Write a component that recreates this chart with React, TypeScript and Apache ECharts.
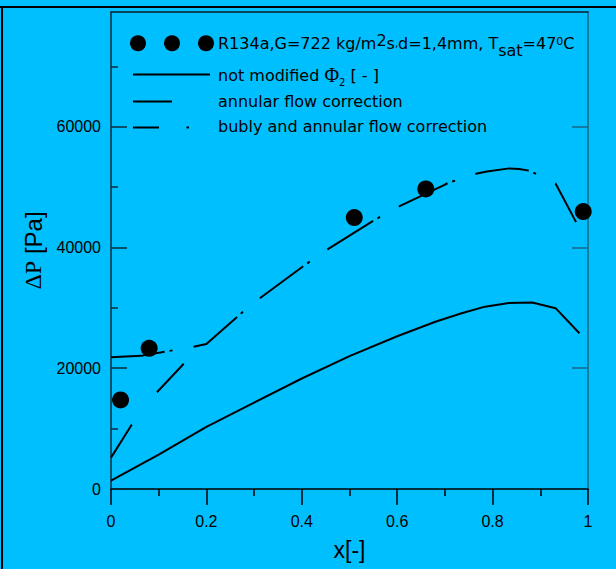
import React, { useEffect, useRef } from 'react';
import * as echarts from 'echarts';

// ---- axis ticks ----
const xTickValues = [0, 0.2, 0.4, 0.6, 0.8, 1];
const xMinorTickValues = [0.1, 0.3, 0.5, 0.7, 0.9];
const yTickValues = [0, 20000, 40000, 60000];
const yMinorTickValues = [10000, 30000, 50000, 70000];
const rightTickValues = [20000, 40000, 60000];

// ---- experimental points ----
const expQuality = [0.02, 0.08, 0.51, 0.66, 0.99];
const expDeltaP = [14750, 23300, 44950, 49700, 45950];

// ---- not modified Phi2 ----
const baseQuality = [0, 0.1, 0.2, 0.3, 0.4, 0.5, 0.6, 0.68, 0.735, 0.784, 0.834, 0.883, 0.932, 0.982];
const baseDeltaP = [1400, 5700, 10300, 14300, 18300, 22000, 25300, 27700, 29100, 30200, 30800, 30900, 29950, 25800];

// ---- annular flow correction ----
const annularQuality = [0, 0.043, 0.096, 0.152, 0.2];
const annularDeltaP = [5200, 10600, 16000, 20700, 24000];

// ---- bubly and annular flow correction ----
const bubblyQuality = [0, 0.063, 0.113, 0.17, 0.2, 0.276, 0.312, 0.41, 0.454, 0.552, 0.604, 0.697, 0.707, 0.765, 0.788, 0.835, 0.856, 0.878, 0.932, 0.975];
const bubblyDeltaP = [21800, 22050, 22750, 23500, 24000, 29300, 31600, 37300, 39700, 44550, 46800, 50300, 50700, 52200, 52600, 53100, 53000, 52700, 50600, 44200];

const SANS = 'Liberation Sans, Arial, sans-serif';
const LEG = 'DejaVu Sans, sans-serif';
const SERIF = 'Liberation Serif, Times New Roman, serif';

const zip = (xs: number[], ys: number[]) => xs.map((x, i) => [x, ys[i]]);

export default function App() {
  const ref = useRef<HTMLDivElement>(null);
  useEffect(() => {
    if (!ref.current) return;
    const chart = echarts.init(ref.current, undefined, { renderer: 'svg' });
    const tickStyle = { color: '#000', width: 1.5 };
    const yLineColor = '#0e2a3a';
    const option: any = {
      animation: false,
      backgroundColor: '#00BFFF',
      grid: { left: 111, top: 12, right: 28, bottom: 80, containLabel: false },
      xAxis: [
        {
          type: 'value', position: 'bottom', min: 0, max: 1, interval: 0.2,
          axisLine: { show: true, onZero: false, lineStyle: { color: '#000', width: 1.5 } },
          axisTick: { show: true, inside: false, length: 16, lineStyle: tickStyle },
          axisLabel: { show: true, margin: 24, fontSize: 16, color: '#000', fontFamily: SANS },
          splitLine: { show: false },
          name: 'x[-]', nameLocation: 'middle', nameGap: 49,
          nameTextStyle: { fontSize: 23, color: '#000', fontFamily: SANS },
        },
        {
          type: 'value', position: 'bottom', min: 0, max: 1,
          axisLine: { show: false },
          axisTick: { show: true, inside: false, length: 7, customValues: xMinorTickValues, lineStyle: tickStyle },
          axisLabel: { show: false }, splitLine: { show: false },
        },
        {
          type: 'value', position: 'top', min: 0, max: 1,
          axisLine: { show: true, onZero: false, lineStyle: { color: '#0b1f2c', width: 1.5 } },
          axisTick: { show: false }, axisLabel: { show: false }, splitLine: { show: false },
        },
      ],
      yAxis: [
        {
          type: 'value', position: 'left', min: 0, max: 79000,
          axisLine: { show: true, onZero: false, lineStyle: { color: yLineColor, width: 1.5 } },
          axisTick: { show: true, inside: true, length: 16, customValues: yTickValues, lineStyle: { color: yLineColor, width: 1.5 } },
          axisLabel: { show: true, customValues: yTickValues, formatter: (v: number) => String(v), margin: 10, fontSize: 16, color: '#000', fontFamily: SANS },
          splitLine: { show: false },
          name: '{s|ΔP} [Pa]', nameLocation: 'middle', nameGap: 66, nameRotate: 90,
          nameTextStyle: {
            fontSize: 24, color: '#000', fontFamily: SANS,
            rich: { s: { fontSize: 24, fontFamily: SERIF, color: '#000' } },
          },
        },
        {
          type: 'value', position: 'left', min: 0, max: 79000,
          axisLine: { show: false },
          axisTick: { show: true, inside: true, length: 7, customValues: yMinorTickValues, lineStyle: { color: yLineColor, width: 1.5 } },
          axisLabel: { show: false }, splitLine: { show: false },
        },
        {
          type: 'value', position: 'right', min: 0, max: 79000,
          axisLine: { show: true, onZero: false, lineStyle: { color: '#1b6585', width: 1.5 } },
          axisTick: { show: true, inside: true, length: 16, customValues: rightTickValues, lineStyle: { color: '#1b6585', width: 1.5 } },
          axisLabel: { show: false }, splitLine: { show: false },
        },
      ],
      series: [
        {
          name: 'not modified Φ2 [ - ]', type: 'line', xAxisIndex: 0, yAxisIndex: 0,
          data: zip(baseQuality, baseDeltaP), showSymbol: false, symbol: 'none',
          lineStyle: { color: '#000', width: 2 },
        },
        {
          name: 'annular flow correction', type: 'line', xAxisIndex: 0, yAxisIndex: 0,
          data: zip(annularQuality, annularDeltaP), showSymbol: false, symbol: 'none',
          lineStyle: { color: '#000', width: 2, type: [39, 41] },
        },
        {
          name: 'bubly and annular flow correction', type: 'line', xAxisIndex: 0, yAxisIndex: 0,
          data: zip(bubblyQuality, bubblyDeltaP), showSymbol: false, symbol: 'none',
          lineStyle: { color: '#000', width: 2, type: [54, 5, 3, 21.4] },
        },
        {
          name: 'R134a,G=722 kg/m2s,d=1,4mm, Tsat=47oC', type: 'scatter', xAxisIndex: 0, yAxisIndex: 0,
          data: zip(expQuality, expDeltaP), symbol: 'circle', symbolSize: 17,
          itemStyle: { color: '#000', opacity: 1 }, z: 5,
        },
      ],
      graphic: [
        { type: 'line', shape: { x1: 0, y1: 7, x2: 616, y2: 7 }, style: { stroke: '#000', lineWidth: 2 } },
        { type: 'line', shape: { x1: 2, y1: 6, x2: 2, y2: 569 }, style: { stroke: '#000', lineWidth: 2 } },
        { type: 'circle', shape: { cx: 138, cy: 43.3, r: 8 }, style: { fill: '#000' } },
        { type: 'circle', shape: { cx: 172, cy: 43.3, r: 8 }, style: { fill: '#000' } },
        { type: 'circle', shape: { cx: 206, cy: 43.3, r: 8 }, style: { fill: '#000' } },
        {
          type: 'text', x: 218, y: 43,
          style: {
            text: '{b|R134a,G=722 kg/m}{sup|2}{b|s}{cm|,}{b|d=1,4mm, T}{sub|sat}{b|=47}{deg|0}{b|C}',
            verticalAlign: 'middle', align: 'left', fill: '#000',
            rich: {
              b: { fontSize: 16, fontFamily: LEG, lineHeight: 30, verticalAlign: 'middle', fill: '#000' },
              sup: { fontSize: 16, fontFamily: LEG, verticalAlign: 'top', padding: [4, 0, 0, 0], fill: '#000' },
              sub: { fontSize: 16, fontFamily: LEG, lineHeight: 20, verticalAlign: 'bottom', fill: '#000' },
              deg: { fontSize: 11, fontFamily: LEG, verticalAlign: 'top', padding: [8, 0, 0, 0], fill: '#000' },
              cm: { fontSize: 10, fontFamily: LEG, lineHeight: 30, verticalAlign: 'middle', fill: '#000' },
            },
          },
        },
        { type: 'line', shape: { x1: 133, y1: 74.5, x2: 210, y2: 74.5 }, style: { stroke: '#000', lineWidth: 2 } },
        {
          type: 'text', x: 218, y: 75,
          style: {
            text: '{b|not modified }{phi|Φ}{s2|2}{b| [ - ]}',
            verticalAlign: 'middle', align: 'left', fill: '#000',
            rich: {
              b: { fontSize: 16, fontFamily: LEG, lineHeight: 24, verticalAlign: 'middle', fill: '#000' },
              phi: { fontSize: 20, fontFamily: SERIF, lineHeight: 24, verticalAlign: 'middle', fill: '#000' },
              s2: { fontSize: 10, fontFamily: LEG, lineHeight: 20, verticalAlign: 'bottom', fill: '#000' },
            },
          },
        },
        { type: 'line', shape: { x1: 133, y1: 101.5, x2: 172, y2: 101.5 }, style: { stroke: '#000', lineWidth: 2 } },
        {
          type: 'text', x: 218, y: 101.5,
          style: { text: 'annular flow correction', verticalAlign: 'middle', align: 'left', fill: '#000', fontSize: 16, fontFamily: LEG },
        },
        { type: 'line', shape: { x1: 133, y1: 127.5, x2: 159, y2: 127.5 }, style: { stroke: '#000', lineWidth: 2 } },
        { type: 'line', shape: { x1: 186.5, y1: 127.5, x2: 189, y2: 127.5 }, style: { stroke: '#000', lineWidth: 2 } },
        {
          type: 'text', x: 218, y: 126.5,
          style: { text: 'bubly and annular flow correction', verticalAlign: 'middle', align: 'left', fill: '#000', fontSize: 16, fontFamily: LEG },
        },
      ],
    };
    chart.setOption(option);
    return () => chart.dispose();
  }, []);
  return <div ref={ref} style={{ position: 'absolute', left: 0, top: 0, width: 616, height: 569 }} />;
}
